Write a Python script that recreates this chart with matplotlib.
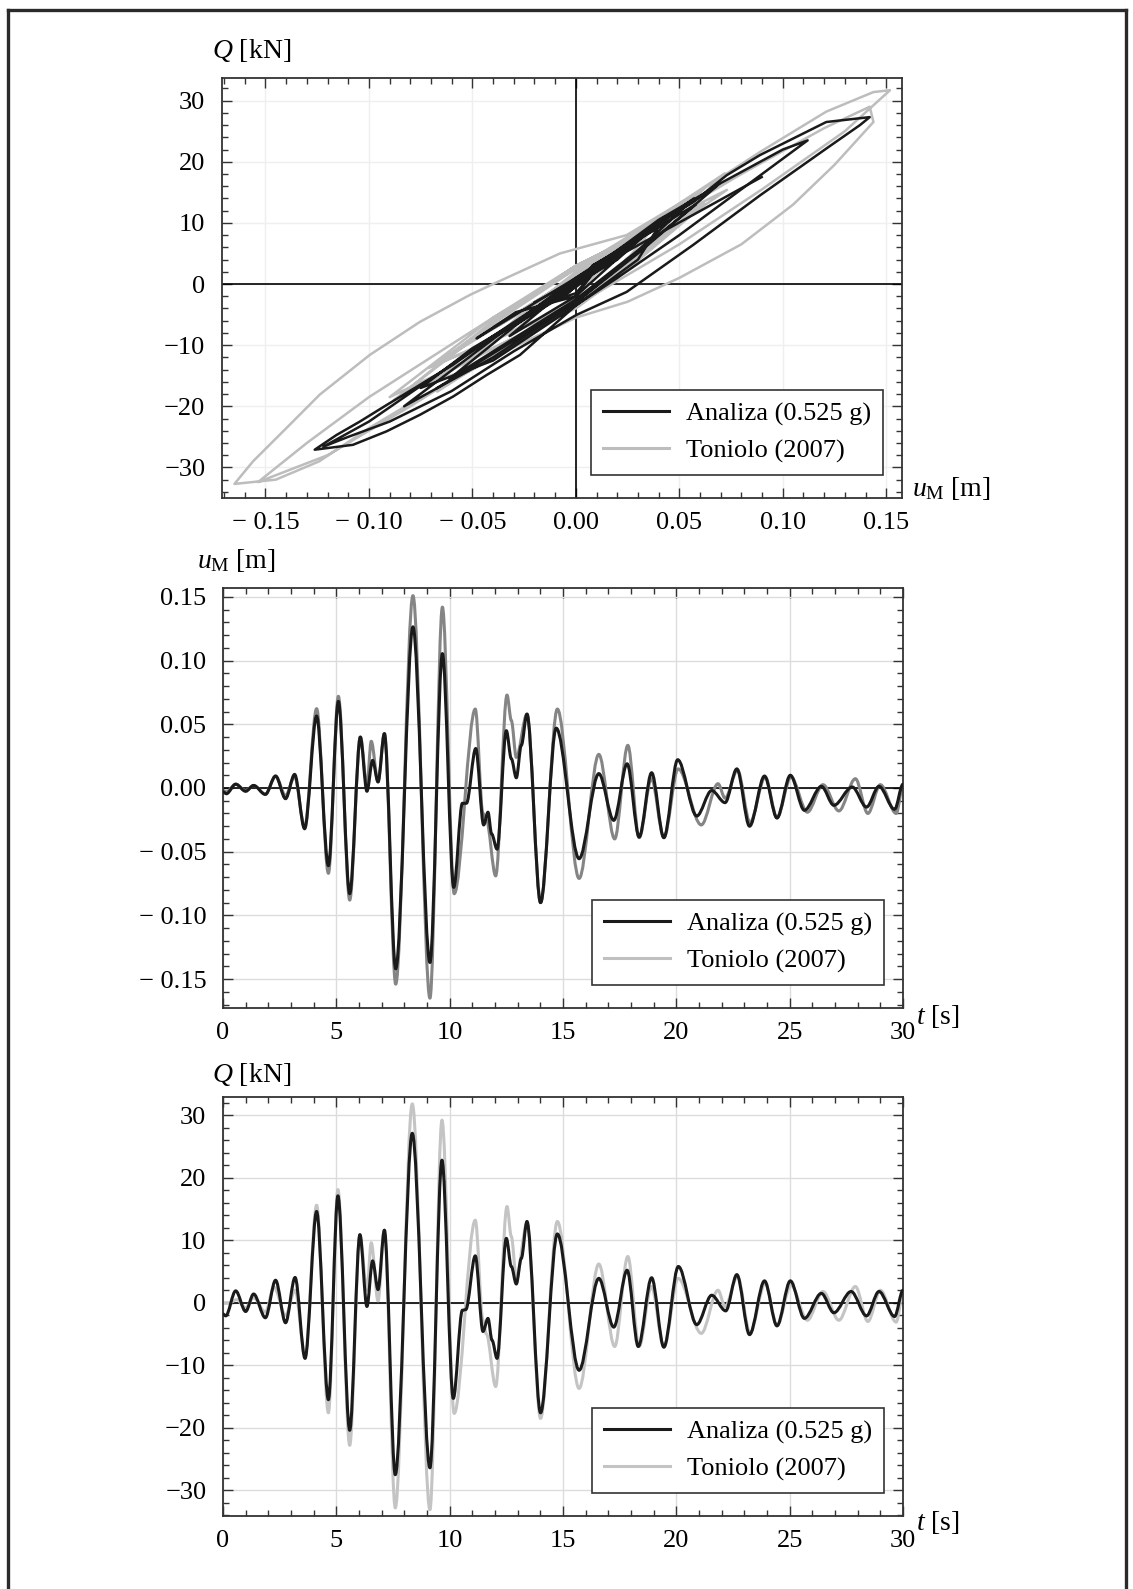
import matplotlib
matplotlib.use("Agg")
import matplotlib.pyplot as plt
from matplotlib.lines import Line2D
from matplotlib.path import Path
from matplotlib.patches import PathPatch
from matplotlib.ticker import MultipleLocator, FuncFormatter

plt.rcParams['font.family'] = ['Liberation Serif', 'DejaVu Serif']
plt.rcParams['mathtext.fontset'] = 'custom'
plt.rcParams['mathtext.rm'] = 'Liberation Serif'
plt.rcParams['mathtext.it'] = 'Liberation Serif:italic'

# ---- hysteresis Q(u) ----
hyst_u_a = [-0.003, 0.011, 0.0, -0.009, 0.0, 0.012, 0.0, -0.032, 0.0, 0.030, 0.057, 0.030, 0.0,
            -0.061, -0.030, 0.0, 0.040, 0.068, 0.030, 0.0, -0.040, -0.083, -0.040, 0.0, 0.040,
            0.020, 0.005, 0.022, 0.002, 0.043, 0.030, 0.0, -0.027, -0.0432, -0.0593, -0.0754,
            -0.0915, -0.1077, -0.1262, -0.1157, -0.1044, -0.0915, -0.0754, -0.0593, -0.0432,
            -0.027, -0.003, 0.0084, 0.0245, 0.0406, 0.0567, 0.0729, 0.089, 0.105, 0.121, 0.142,
            0.1373, 0.1212, 0.089, 0.0567, 0.0245, 0.0, -0.030, -0.060, -0.090, -0.110, -0.122,
            -0.100, -0.070, -0.040, 0.0, 0.040, 0.070, 0.100, 0.112, 0.080, 0.050, 0.020, 0.0,
            -0.040, -0.075, -0.050, -0.025, 0.0, 0.031, 0.0, -0.029, -0.048, 0.0, 0.045, 0.008,
            0.058, 0.0, -0.067]
hyst_q_a = [-0.8, 2.8, -1.5, -2.5, 0.5, 3.5, -2.0, -8.5, 0.5, 7.5, 14.0, 5.5, -2.5,
            -15.5, -7.0, 0.5, 10.5, 16.0, 5.0, -3.0, -12.0, -20.0, -9.0, 1.0, 10.0,
            4.0, 1.0, 5.5, 0.5, 11.0, 4.0, -3.5, -11.6, -14.9, -18.4, -21.4,
            -24.1, -26.3, -27.1, -24.7, -22.5, -19.8, -16.5, -13.2, -9.4,
            -6.2, -1.3, 3.1, 5.8, 10.2, 13.4, 17.8, 21.1, 23.8, 26.5, 27.3,
            26.0, 22.2, 14.5, 6.4, -1.3, -5.1, -11.0, -17.5, -22.5, -25.0, -26.6,
            -22.5, -15.5, -8.5, 0.5, 9.8, 16.5, 22.0, 23.5, 15.5, 8.0, 1.0, -3.5,
            -12.5, -17.0, -10.5, -5.5, -0.5, 7.5, -2.0, -4.6, -8.9, 1.0, 10.3, 3.0,
            13.0, -3.0, -17.0]
stub_u_a = [-0.020, 0.0898]
stub_q_a = [-3.0, 17.5]

hyst_u_t = [0.0, 0.010, -0.008, 0.011, 0.0, -0.032, 0.0, 0.062, 0.030, 0.0, -0.067, -0.030, 0.0,
            0.072, 0.035, 0.0, -0.088, -0.040, 0.0, 0.040, 0.002, 0.037, 0.005, 0.043,
            0.020, 0.0, -0.040, -0.080, -0.120, -0.1536,
            -0.130, -0.100, -0.070, -0.040, 0.0, 0.040, 0.080, 0.120, 0.142,
            0.1438, 0.125, 0.105, 0.080, 0.050, 0.025, 0.0, -0.027, -0.051, -0.0754, -0.0996,
            -0.124, -0.145, -0.165,
            -0.156, -0.140, -0.1238, -0.0996, -0.0754, -0.0513, -0.040, -0.0077, 0.0245, 0.0567,
            0.089, 0.121, 0.1438, 0.1518,
            0.130, 0.090, 0.050, 0.0, -0.040, -0.083,
            -0.040, 0.0, 0.062, 0.030, 0.0, -0.069, -0.030, 0.0, 0.073, 0.024, 0.058, 0.020, 0.0,
            -0.090, -0.040, 0.0, 0.062, 0.020, 0.0, -0.071, 0.026, -0.040, 0.0335, -0.039, 0.010,
            -0.039, 0.015, -0.029, 0.003, -0.008, 0.014, -0.027, 0.009, -0.023, 0.009, -0.019,
            0.003, -0.018, 0.007, -0.020, 0.003, -0.020, 0.002]
hyst_q_t = [0.0, 2.0, -2.0, 2.5, -2.0, -8.5, 1.5, 15.6, 5.0, -3.0, -17.6, -6.0, 2.0,
            18.1, 6.0, -3.5, -19.0, -6.5, 2.5, 10.8, 2.0, 9.6, 0.3, 11.6,
            2.0, -3.0, -11.5, -20.0, -28.0, -32.4,
            -26.0, -18.5, -12.0, -5.5, 2.5, 10.0, 18.0, 25.5, 29.0,
            26.5, 19.5, 13.0, 6.5, 1.0, -2.9, -5.5, -9.8, -14.2, -18.6, -23.5,
            -29.0, -32.0, -32.7,
            -29.0, -23.6, -18.1, -11.6, -6.2, -1.8, 0.0, 5.0, 8.0, 14.5,
            21.6, 28.2, 31.4, 31.7,
            25.0, 15.5, 6.5, -3.5, -12.5, -17.7,
            -6.0, 3.0, 13.2, 4.0, -3.0, -13.4, -4.0, 3.0, 15.4, 4.0, 12.7, 1.0, -4.0,
            -18.5, -5.5, 3.0, 13.0, 1.0, -3.5, -13.7, 6.2, -7.0, 7.4, -7.0, 2.6,
            -7.1, 3.9, -4.9, 2.0, -0.6, 4.2, -4.8, 3.1, -3.6, 2.8, -2.8,
            1.8, -2.8, 2.6, -3.0, 2.0, -3.1, 1.5]

# ---- displacement u_M(t) [m], turning points ----
t_ua = [0, 0.15, 0.56, 1.0, 1.35, 1.87, 2.32, 2.76, 3.16, 3.6, 4.13, 4.65, 5.09, 5.59, 6.06, 6.35,
        6.6, 6.84, 7.12, 7.62, 8.38, 9.13, 9.68, 10.18, 10.56, 10.74, 11.15, 11.5, 11.69, 11.85,
        12.09, 12.5, 12.72, 12.94, 13.16, 13.41, 14.01, 14.7, 15.71, 16.58, 17.24, 17.83, 18.36,
        18.91, 19.45, 20.06, 20.9, 21.56, 22.15, 22.67, 23.23, 23.89, 24.44, 25.03, 25.65, 26.4,
        26.95, 27.76, 28.39, 28.94, 29.63, 30.0]
ua = [-0.003, -0.0045, 0.003, -0.0026, 0.002, -0.005, 0.0094, -0.0084, 0.0107, -0.032, 0.0565,
      -0.061, 0.068, -0.083, 0.040, -0.0026, 0.0217, 0.0047, 0.0427, -0.142, 0.1265, -0.137,
      0.1055, -0.078, -0.012, -0.012, 0.031, -0.029, -0.019, -0.036, -0.048, 0.045, 0.023, 0.008,
      0.0335, 0.058, -0.090, 0.047, -0.0555, 0.0113, -0.0254, 0.019, -0.0385, 0.012, -0.039,
      0.0222, -0.022, -0.002, -0.0115, 0.015, -0.030, 0.0094, -0.0236, 0.010, -0.0175, 0.0013,
      -0.0136, 0.0008, -0.015, 0.0013, -0.0168, 0.003]

t_ut = [0, 0.15, 0.56, 1.0, 1.35, 1.87, 2.32, 2.76, 3.16, 3.6, 4.13, 4.65, 5.09, 5.59, 6.06, 6.35,
        6.54, 6.84, 7.12, 7.62, 8.38, 9.13, 9.68, 10.2, 11.13, 11.47, 11.62,
        12.03, 12.53, 12.72, 12.94, 13.41, 14.01, 14.75, 15.71, 16.58, 17.28, 17.86,
        18.36, 18.9, 19.45, 20.08, 21.1, 21.84, 22.15, 22.7, 23.25, 23.92, 24.44, 25.06, 25.78,
        26.47, 27.17, 27.9, 28.45, 29.0, 29.7, 30.0]
ut = [-0.002, -0.003, 0.003, -0.002, 0.002, -0.005, 0.0094, -0.006, 0.009, -0.031, 0.0623,
      -0.067, 0.072, -0.088, 0.040, 0.002, 0.0367, 0.005, 0.0427, -0.154, 0.151, -0.165, 0.142,
      -0.083, 0.062, -0.020, -0.025, -0.069, 0.073, 0.053, 0.024,
      0.058, -0.090, 0.062, -0.071, 0.0264, -0.040, 0.0335, -0.039, 0.0073, -0.039, 0.015,
      -0.029, 0.0034, -0.008, 0.014, -0.027, 0.0086, -0.023, 0.0086, -0.019, 0.0026, -0.018,
      0.0073, -0.020, 0.0026, -0.020, 0.002]

# ---- base shear Q(t) [kN], turning points ----
t_qa = [0, 0.12, 0.56, 1.0, 1.35, 1.87, 2.32, 2.76, 3.18, 3.62, 4.13, 4.65, 5.07, 5.59, 6.04, 6.35,
        6.6, 6.84, 7.12, 7.6, 8.35, 9.13, 9.66, 10.16, 10.56, 10.71, 11.13, 11.47, 11.69, 11.87,
        12.09, 12.5, 12.72, 12.94, 13.16, 13.41, 14.01, 14.75, 15.71, 16.58, 17.24, 17.83, 18.32,
        18.91, 19.45, 20.09, 20.9, 21.56, 22.18, 22.67, 23.23, 23.89, 24.44, 25.03, 25.65, 26.4,
        26.95, 27.71, 28.39, 28.94, 29.63, 30.0]
qa = [-1.8, -2.1, 1.9, -1.4, 1.4, -2.4, 3.6, -3.2, 4.05, -8.9, 14.6, -15.5, 17.1, -20.4, 10.9,
      -0.6, 6.7, 2.1, 11.6, -27.5, 27.1, -26.4, 22.8, -15.3, -1.2, -1.1, 7.5, -4.6, -2.5, -6.0,
      -8.9, 10.3, 5.8, 3.0, 7.1, 13.0, -17.6, 11.0, -10.8, 3.9, -3.9, 5.2, -7.0, 4.0, -7.1, 5.8,
      -3.5, 1.2, -1.3, 4.5, -5.1, 3.5, -3.7, 3.5, -2.5, 1.5, -1.6, 1.8, -2.1, 1.8, -2.2, 2.0]

t_qt = [0, 0.3, 0.6, 1.0, 1.35, 1.87, 2.25, 2.76, 3.18, 3.62, 4.13, 4.65, 5.07, 5.59, 6.04, 6.35,
        6.54, 6.84, 7.12, 7.6, 8.35, 9.13, 9.66, 10.2, 11.13, 11.47, 11.62,
        12.03, 12.53, 12.72, 12.94, 13.41, 14.01, 14.75, 15.71, 16.58, 17.28, 17.86,
        18.36, 18.9, 19.45, 20.08, 21.1, 21.84, 22.15, 22.7, 23.25, 23.92, 24.44, 25.06, 25.78,
        26.47, 27.17, 27.9, 28.45, 29.0, 29.7, 30.0]
qt = [0.0, 0.0, 0.5, -0.8, 0.8, -1.5, 2.5, -2.0, 2.0, -8.5, 15.6, -17.6, 18.1, -22.8, 10.8, 2.0,
      9.6, 0.3, 11.6, -32.8, 31.8, -33.1, 29.2, -17.7, 13.2, -2.8, -5.0,
      -13.4, 15.4, 10.6, 4.0, 12.7, -18.5, 13.0, -13.7, 6.2, -7.0, 7.4, -7.0, 2.6, -7.1,
      3.9, -4.9, 2.0, -0.6, 4.2, -4.8, 3.1, -3.6, 2.8, -2.8, 1.8, -2.8, 2.6, -3.0, 2.0, -3.1, 1.5]

labels = ['Analiza (0.525 g)', 'Toniolo (2007)']
FS = 19
W, H = 1133, 1589


def signed(nd, space):
    def f(v, pos):
        s = '{:.{}f}'.format(abs(v), nd)
        if v < -1e-9:
            return '\u2212' + (' ' if space else '') + s
        return s
    return FuncFormatter(f)


def style_axes(ax, grid_color):
    for sp in ax.spines.values():
        sp.set_color('#333333')
        sp.set_linewidth(1.3)
    ax.tick_params(which='both', direction='in', top=True, right=True, labelsize=FS,
                   color='#333333', width=1.0)
    ax.tick_params(which='major', length=7)
    ax.tick_params(which='minor', length=4)
    ax.tick_params(axis='x', pad=10)
    ax.tick_params(axis='y', pad=12)
    ax.grid(True, which='major', color=grid_color, linewidth=1.0, zorder=0)
    ax.set_axisbelow(True)
    ax.axhline(0, color='black', linewidth=1.2, zorder=1)


def history(ax, ts, vs, color, z):
    # turning points joined by cubic segments with flat tangents at each point
    verts = [(ts[0], vs[0])]
    codes = [Path.MOVETO]
    for i in range(1, len(ts)):
        d = (ts[i] - ts[i - 1]) / 3.0
        verts += [(ts[i - 1] + d, vs[i - 1]), (ts[i] - d, vs[i]), (ts[i], vs[i])]
        codes += [Path.CURVE4] * 3
    ax.add_patch(PathPatch(Path(verts, codes), fill=False, edgecolor=color, lw=2.2,
                           zorder=z, joinstyle='round', capstyle='round'))


def add_legend(ax, gray):
    handles = [Line2D([], [], color='#1a1a1a', lw=2.2), Line2D([], [], color=gray, lw=2.2)]
    leg = ax.legend(handles, labels, loc='lower right', bbox_to_anchor=(0.972, 0.055),
                    fontsize=FS, frameon=True, fancybox=False, framealpha=1,
                    edgecolor='#333333', handlelength=2.5, handletextpad=0.65,
                    labelspacing=0.5, borderpad=0.45, borderaxespad=0)
    leg.get_frame().set_linewidth(1.2)
    leg.set_zorder(5)


def px_axes(l, t, r, b):
    return fig.add_axes([l / W, 1 - b / H, (r - l) / W, (b - t) / H])


fig = plt.figure(figsize=(W / 100, H / 100), dpi=100)

# top: hysteresis
ax1 = px_axes(222, 78, 902, 498)
style_axes(ax1, '#efefef')
ax1.axvline(0, color='black', linewidth=1.2, zorder=1)
ax1.plot(hyst_u_t, hyst_q_t, color='#bdbdbd', lw=1.8, zorder=2, solid_joinstyle='round')
ax1.plot(hyst_u_a, hyst_q_a, color='#1a1a1a', lw=1.8, zorder=3, solid_joinstyle='round')
ax1.plot(stub_u_a, stub_q_a, color='#1a1a1a', lw=1.8, zorder=3)
ax1.set_xlim(-0.171, 0.1576)
ax1.set_ylim(-35.0, 33.7)
ax1.set_xticks([-0.15, -0.10, -0.05, 0.0, 0.05, 0.10, 0.15])
ax1.xaxis.set_minor_locator(MultipleLocator(0.01))
ax1.set_yticks([-30, -20, -10, 0, 10, 20, 30])
ax1.yaxis.set_minor_locator(MultipleLocator(2))
ax1.xaxis.set_major_formatter(signed(2, True))
ax1.yaxis.set_major_formatter(signed(0, False))
add_legend(ax1, '#bdbdbd')

# middle: displacement history
ax2 = px_axes(223, 588, 903, 1008)
style_axes(ax2, '#dcdcdc')
history(ax2, t_ut, ut, '#858585', 2)
history(ax2, t_ua, ua, '#1a1a1a', 3)
ax2.set_xlim(0, 30)
ax2.set_ylim(-0.1727, 0.157)
ax2.set_xticks([0, 5, 10, 15, 20, 25, 30])
ax2.xaxis.set_minor_locator(MultipleLocator(1))
ax2.set_yticks([-0.15, -0.10, -0.05, 0.0, 0.05, 0.10, 0.15])
ax2.yaxis.set_minor_locator(MultipleLocator(0.01))
ax2.yaxis.set_major_formatter(signed(2, True))
add_legend(ax2, '#c0c0c0')

# bottom: force history
ax3 = px_axes(223, 1097, 903, 1516)
style_axes(ax3, '#dcdcdc')
history(ax3, t_qt, qt, '#c4c4c4', 2)
history(ax3, t_qa, qa, '#1a1a1a', 3)
ax3.set_xlim(0, 30)
ax3.set_ylim(-34.1, 32.9)
ax3.set_xticks([0, 5, 10, 15, 20, 25, 30])
ax3.xaxis.set_minor_locator(MultipleLocator(1))
ax3.set_yticks([-30, -20, -10, 0, 10, 20, 30])
ax3.yaxis.set_minor_locator(MultipleLocator(2))
ax3.yaxis.set_major_formatter(signed(0, False))
add_legend(ax3, '#c4c4c4')


# axis captions
def caption(x, y, s):
    fig.text(x / W, 1 - y / H, s, fontsize=FS + 1, ha='center', va='center')


caption(252, 50, r'$Q$ [kN]')
caption(951, 489, r'$u_{\mathrm{M}}$ [m]')
caption(236, 560, r'$u_{\mathrm{M}}$ [m]')
caption(938, 1016, r'$t$ [s]')
caption(252, 1074, r'$Q$ [kN]')
caption(938, 1522, r'$t$ [s]')

# outer frame
bx0, bx1, by0 = 7.5 / W, 1125.5 / W, 1 - 9.5 / H
for xs, ys in [([bx0, bx0], [0, by0]), ([bx1, bx1], [0, by0]), ([bx0, bx1], [by0, by0])]:
    fig.add_artist(Line2D(xs, ys, transform=fig.transFigure, color='#2a2a2a', lw=2.4))

fig.savefig('out.png', dpi=100)
